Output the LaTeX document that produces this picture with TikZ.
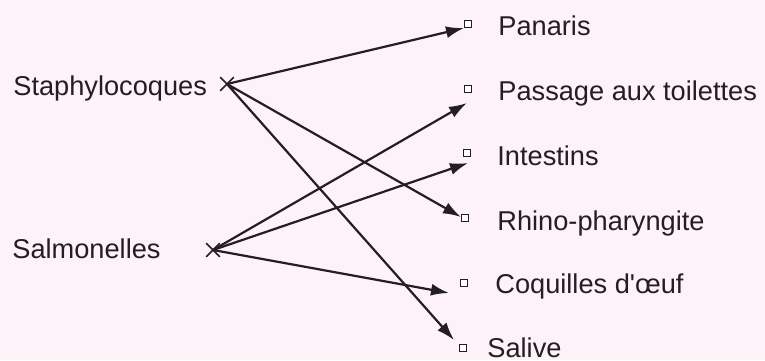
\documentclass[tikz,border=0pt]{standalone}
\usepackage{fontspec}
\setmainfont{Liberation Sans}
\usetikzlibrary{arrows.meta,shapes.misc}

\definecolor{paper}{RGB}{252,242,247}
\definecolor{ink}{RGB}{35,30,35}

\tikzset{
  lbl/.style={font=\fontsize{13.6}{16}\selectfont, text=ink, inner sep=0pt, anchor=base west},
  box/.style={draw=ink, fill=white, line width=0.7pt, minimum size=3.6pt, inner sep=0pt},
  startx/.style={cross out, draw=ink, line width=0.8pt, minimum size=6pt, inner sep=0pt},
  link/.style={draw=ink, line width=1.1pt, -{Latex[length=9pt,width=6pt]}},
}

\begin{document}
\begin{tikzpicture}[x=0.5pt, y=-0.5pt]
  % frame
  \useasboundingbox (0,0) rectangle (765,360);
  \fill[paper] (0,0) rectangle (765,360);

  % sources
  \node[lbl] (staph) at (13,95) {Staphylocoques};
  \node[lbl] (salmo) at (12,258) {Salmonelles};
  \node[startx] (s1) at (227,84) {};
  \node[startx] (s2) at (213,250) {};

  % targets
  \node[box] (b1) at (468,24) {};
  \node[box] (b2) at (468,89) {};
  \node[box] (b3) at (467,153) {};
  \node[box] (b4) at (465,218) {};
  \node[box] (b5) at (464,283) {};
  \node[box] (b6) at (463,348) {};

  \node[lbl] (panaris) at (498,35) {Panaris};
  \node[lbl] (passage) at (498,100) {Passage aux toilettes};
  \node[lbl] (intestin) at (497,165) {Intestins};
  \node[lbl] (rhino) at (497,230) {Rhino-pharyngite};
  \node[lbl] (coquille) at (495,293) {Coquilles d\textquotesingle œuf};
  \node[lbl] (salive) at (487,357) {Salive};

  % arrow ends
  \coordinate (e1) at (464,28);
  \coordinate (e2) at (467,103);
  \coordinate (e3) at (468,163);
  \coordinate (e4) at (461,217);
  \coordinate (e5) at (449,293);
  \coordinate (e6) at (454,340);

  % draw links
  \draw[link] (s1.center) -- (e1);
  \draw[link] (s1.center) -- (e4);
  \draw[link] (s1.center) -- (e6);
  \draw[link] (s2.center) -- (e2);
  \draw[link] (s2.center) -- (e3);
  \draw[link] (s2.center) -- (e5);
\end{tikzpicture}
\end{document}
